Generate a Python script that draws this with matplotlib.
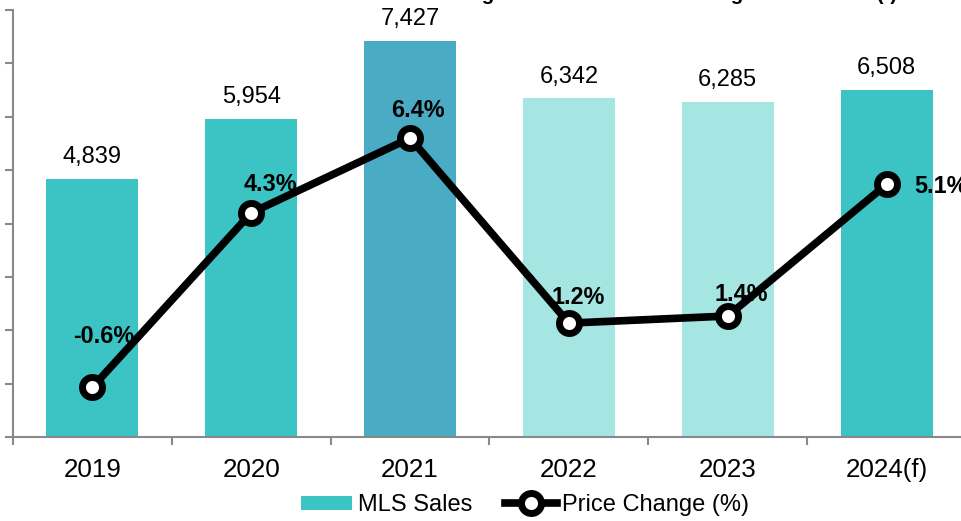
import matplotlib.pyplot as plt
from matplotlib.lines import Line2D
from matplotlib.patches import Patch

plt.rcParams['font.family'] = ['Liberation Sans', 'DejaVu Sans']

years = ["2019", "2020", "2021", "2022", "2023", "2024(f)"]
mls_sales = [4839, 5954, 7427, 6342, 6285, 6508]
price_change = [-0.6, 4.3, 6.4, 1.2, 1.4, 5.1]

teal = "#3CC4C4"
bar_colors = [teal, teal, "#4AABC5", "#A5E6E3", "#A5E6E3", teal]
axis_grey = "#898989"

# where each % label sits relative to its point (points)
pct_offsets = [(8, 32), (14, 16), (6, 15), (7, 14), (10, 11)]

fig = plt.figure(figsize=(9.62, 5.21), dpi=100)
ax = fig.add_axes([13 / 962, 84 / 521, 953 / 962, 427 / 521])

x = list(range(len(years)))
ax.bar(x, mls_sales, width=0.58, color=bar_colors, zorder=2)
ax.set_xlim(-0.5, 5.5)
ax.set_ylim(0, 8000)

for side in ("top", "right"):
    ax.spines[side].set_visible(False)
for side in ("left", "bottom"):
    ax.spines[side].set_color(axis_grey)
    ax.spines[side].set_linewidth(1.5)

ax.set_yticks(range(0, 8001, 1000))
ax.tick_params(axis="y", length=5.8, width=1.5, color=axis_grey, labelleft=False)
ax.set_xticks(x, years)
ax.set_xticks([i - 0.5 for i in range(len(years) + 1)], minor=True)
ax.tick_params(axis="x", which="major", length=0, pad=15, labelsize=18.7)
ax.tick_params(axis="x", which="minor", length=5.8, width=1.5, color=axis_grey)

for i, v in zip(x, mls_sales):
    ax.annotate(f"{v:,}", (i, v), xytext=(0, 11.5), textcoords="offset points",
                ha="center", va="baseline", fontsize=17)

# price change on its own scale
ax2 = ax.twinx()
ax2.set_ylim(-2, 10)
ax2.set_axis_off()
line_style = dict(color="black", lw=5.5, marker="o", ms=14.4, mfc="white",
                  mec="black", mew=5)
ax2.plot(x, price_change, clip_on=False, **line_style)

for i, v in zip(x, price_change):
    label = f"{v:.1f}%"
    if i < len(pct_offsets):
        ax2.annotate(label, (i, v), xytext=pct_offsets[i], textcoords="offset points",
                     ha="center", va="baseline", fontsize=16.8, fontweight="bold")
    else:
        ax2.annotate(label, (i, v), xytext=(20, -6), textcoords="offset points",
                     ha="left", va="baseline", fontsize=16.8, fontweight="bold")

fig.text(274 / 962, 1.0, "MLS Sales and Average Home Sale Price Change 2019 - 2024 (f)",
         ha="left", va="baseline", fontsize=14.9, fontweight="bold")

handles = [Patch(facecolor=teal, label="MLS Sales"),
           Line2D([], [], label="Price Change (%)", **line_style)]
fig.legend(handles=handles, loc="center", bbox_to_anchor=(525 / 962, 16 / 521),
           ncol=2, frameon=False, fontsize=17, handlelength=2.2, handleheight=0.55,
           handletextpad=0.25, columnspacing=1.35)

fig.savefig("out.png", dpi=100)
